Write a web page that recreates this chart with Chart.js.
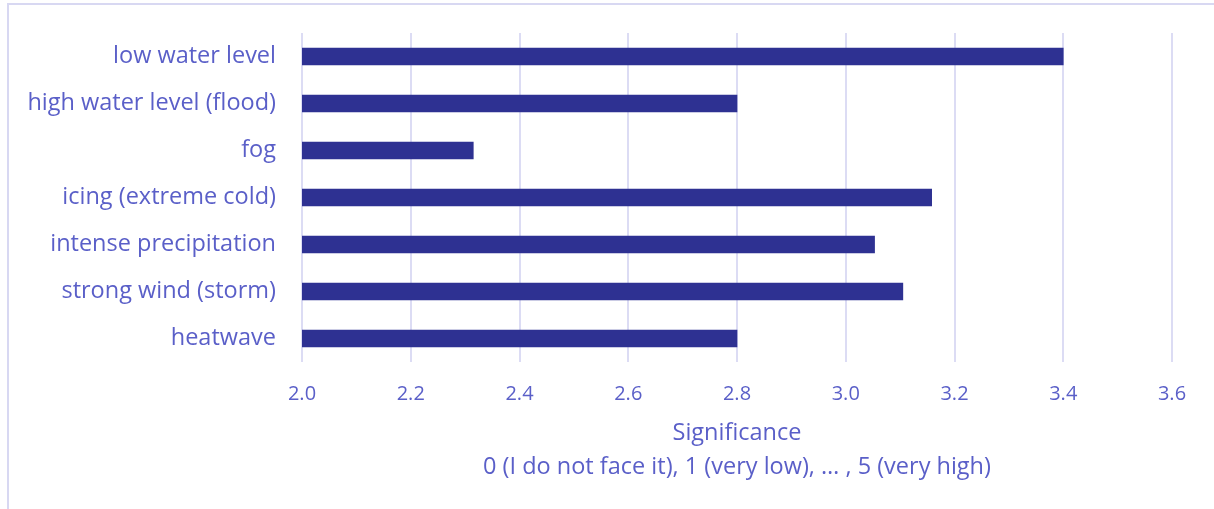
<!DOCTYPE html>
<html>
<head>
<meta charset="utf-8">
<script src="https://cdn.jsdelivr.net/npm/chart.js@4.4.1/dist/chart.umd.min.js"></script>
<style>
  html, body { margin: 0; padding: 0; background: #ffffff; overflow: hidden; }
  #wrap { position: relative; width: 1214px; height: 509px; }
</style>
</head>
<body>
<div id="wrap"><canvas id="chart" width="1214" height="509"></canvas></div>
<script>
// Weather hazards and their rated significance (scale 0..5)
const categories = [
  'low water level',
  'high water level (flood)',
  'fog',
  'icing (extreme cold)',
  'intense precipitation',
  'strong wind (storm)',
  'heatwave'
];
const significance = [3.40, 2.80, 2.315, 3.158, 3.053, 3.105, 2.80];
const axisTitle = ['Significance', '0 (I do not face it), 1 (very low), \u2026 , 5 (very high)'];
const axisMin = 2.0, axisMax = 3.6, axisStep = 0.2;

const TEXT = '#5a5fc8';
const GRID = '#dcdcf4';
const BAR = '#2e3192';
const FONT = '"Open Sans", "Noto Sans", sans-serif';

// Thin frame along the top and left edges of the chart area
const framePlugin = {
  id: 'frame',
  beforeDraw(chart) {
    const ctx = chart.ctx;
    ctx.save();
    ctx.strokeStyle = '#d8d8f2';
    ctx.lineWidth = 2;
    ctx.beginPath();
    ctx.moveTo(8, chart.height);
    ctx.lineTo(8, 4);
    ctx.lineTo(chart.width, 4);
    ctx.stroke();
    ctx.restore();
  }
};

new Chart(document.getElementById('chart'), {
  type: 'bar',
  data: {
    labels: categories,
    datasets: [{
      data: significance,
      backgroundColor: BAR,
      borderWidth: 0,
      barThickness: 17
    }]
  },
  options: {
    indexAxis: 'y',
    responsive: false,
    animation: false,
    layout: { padding: { top: 33, left: 0, right: 42, bottom: 0 } },
    plugins: { legend: { display: false }, tooltip: { enabled: false } },
    scales: {
      x: {
        min: axisMin,
        max: axisMax,
        border: { display: false },
        grid: { color: GRID, lineWidth: 2, drawTicks: false },
        ticks: {
          stepSize: axisStep,
          color: TEXT,
          padding: 20,
          font: { family: FONT, size: 20 },
          callback: v => Number(v).toFixed(1)
        },
        title: {
          display: true,
          text: axisTitle,
          color: TEXT,
          font: { family: FONT, size: 23.5, lineHeight: 1.45 },
          padding: { top: 10, bottom: 25 }
        },
        afterFit(scale) { scale.height = 147; }
      },
      y: {
        border: { display: false },
        grid: { display: false, drawTicks: false },
        ticks: {
          color: TEXT,
          padding: 26,
          font: { family: FONT, size: 23.5 }
        },
        afterFit(scale) {
          scale.width = 302;
          scale.paddingTop = 0;
          scale.paddingBottom = 0;
        }
      }
    }
  },
  plugins: [framePlugin]
});
</script>
</body>
</html>
